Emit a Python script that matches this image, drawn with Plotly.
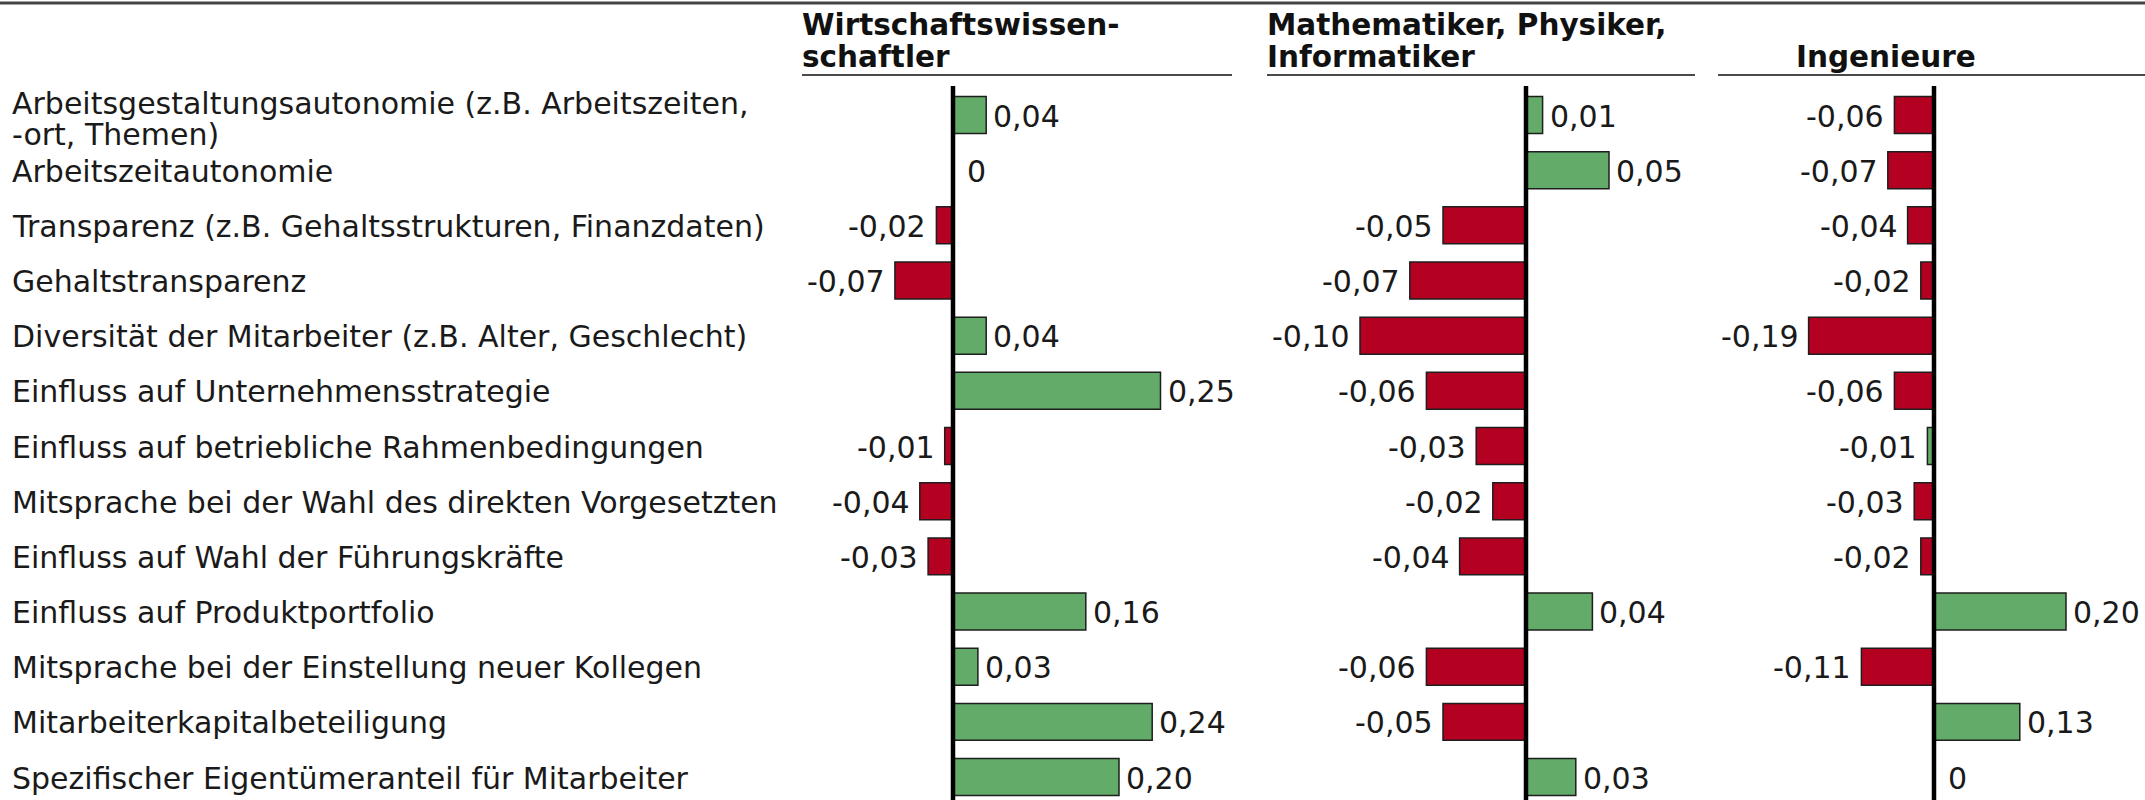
import plotly.graph_objects as go

# ---------------- data ----------------
categories = [
    "Arbeitsgestaltungsautonomie (z.B. Arbeitszeiten,<br>-ort, Themen)",
    "Arbeitszeitautonomie",
    "Transparenz (z.B. Gehaltsstrukturen, Finanzdaten)",
    "Gehaltstransparenz",
    "Diversität der Mitarbeiter (z.B. Alter, Geschlecht)",
    "Einfluss auf Unternehmensstrategie",
    "Einfluss auf betriebliche Rahmenbedingungen",
    "Mitsprache bei der Wahl des direkten Vorgesetzten",
    "Einfluss auf Wahl der Führungskräfte",
    "Einfluss auf Produktportfolio",
    "Mitsprache bei der Einstellung neuer Kollegen",
    "Mitarbeiterkapitalbeteiligung",
    "Spezifischer Eigentümeranteil für Mitarbeiter",
]
panel_titles = [
    "Wirtschaftswissen-<br>schaftler",
    "Mathematiker, Physiker,<br>Informatiker",
    "Ingenieure",
]
wiwi = [0.04, 0.0, -0.02, -0.07, 0.04, 0.25, -0.01, -0.04, -0.03, 0.16, 0.03, 0.24, 0.20]
mint = [0.01, 0.05, -0.05, -0.07, -0.10, -0.06, -0.03, -0.02, -0.04, 0.04, -0.06, -0.05, 0.03]
ing = [-0.06, -0.07, -0.04, -0.02, -0.19, -0.06, -0.01, -0.03, -0.02, 0.20, -0.11, 0.13, 0.0]
series = [wiwi, mint, ing]

# ---------------- layout constants (pixels) ----------------
W, H = 2145, 800
GREEN = "#63AB69"
RED = "#B40021"
OUTLINE = "#1e1e1e"
TXT = "#1a1a1a"
FONT = "DejaVu Sans"
FS = 30
FS_HEAD = 29.5

# panel: (left px, right px, zero px, px per unit)
panels = [
    (802, 1232, 953, 830),
    (1267, 1695, 1526, 1660),
    (1718, 2145, 1934, 660),
]
# in the original, the tiny "-0,01" bar of Ingenieure (row 7) is drawn green
color_override = {(2, 6): GREEN}

row0, rowstep = 115.0, 55.17
n = len(categories)
y_top_px = row0 - 0.5 * rowstep
y_bottom_val = (H - row0) / rowstep
y_dom_top = 1 - y_top_px / H


def fmt(v):
    if v == 0:
        return "0"
    return f"{v:.2f}".replace(".", ",")


fig = go.Figure()
annotations = []
shapes = []
layout_axes = {}

for p, (vals, (lp, rp, zp, scale)) in enumerate(zip(series, panels)):
    axname = "x" if p == 0 else f"x{p+1}"
    key = "xaxis" if p == 0 else f"xaxis{p+1}"
    colors = []
    for i, v in enumerate(vals):
        c = GREEN if v >= 0 else RED
        colors.append(color_override.get((p, i), c))
    fig.add_trace(go.Bar(
        x=vals, y=categories, orientation="h", xaxis=axname, yaxis="y",
        marker=dict(color=colors, line=dict(color=OUTLINE, width=1.5)),
        width=0.67, showlegend=False, hoverinfo="x+y",
    ))
    r0 = (lp - zp) / scale
    r1 = (rp - zp) / scale
    layout_axes[key] = dict(domain=[lp / W, rp / W], range=[r0, r1], visible=False,
                            fixedrange=True, anchor="y")
    # zero line
    shapes.append(dict(type="line", xref=axname, yref="paper", x0=0, x1=0,
                       y0=0, y1=1 - 86 / H, line=dict(color="black", width=4.5)))
    # header underline
    shapes.append(dict(type="line", xref="paper", yref="paper", x0=lp / W, x1=rp / W,
                       y0=1 - 75 / H, y1=1 - 75 / H, line=dict(color="#4a4a4a", width=2)))
    # value labels
    for i, v in enumerate(vals):
        neg = v < 0
        annotations.append(dict(
            x=v, y=i, xref=axname, yref="y", text=fmt(v), showarrow=False,
            xanchor="right" if neg else "left", xshift=-8 if neg else (12 if v == 0 else 5),
            yshift=-1,
            font=dict(family=FONT, size=FS, color=TXT)))

# panel headers
title_pos = [(800, "left"), (1265, "left"), (1886, "center")]
for (tx, anc), t in zip(title_pos, panel_titles):
    lines = t.split("<br>")
    base = [57] if len(lines) == 1 else [25.5, 57]
    for ln, yy in zip(lines, base):
        annotations.append(dict(
            x=tx / W, y=1 - yy / H, xref="paper", yref="paper", text=f"<b>{ln}</b>",
            showarrow=False, xanchor=anc, yanchor="middle",
            font=dict(family=FONT, size=FS_HEAD, color="#111111")))

# row labels
for i, c in enumerate(categories):
    lines = c.split("<br>")
    k = len(lines)
    for j, ln in enumerate(lines):
        ys = ((k - 1) / 2 - j) * 31 - (3 if k > 1 else 0)
        annotations.append(dict(
            x=10 / W, y=i, xref="paper", yref="y", text=ln, showarrow=False,
            xanchor="left", yanchor="middle", yshift=ys - 1,
            font=dict(family=FONT, size=FS, color=TXT)))

# top rule
shapes.append(dict(type="line", xref="paper", yref="paper", x0=0, x1=1,
                   y0=1 - 3 / H, y1=1 - 3 / H, line=dict(color="#444444", width=3)))

fig.update_layout(
    width=W, height=H,
    margin=dict(l=0, r=0, t=0, b=0),
    paper_bgcolor="white", plot_bgcolor="white",
    barmode="overlay",
    yaxis=dict(domain=[0, y_dom_top], range=[y_bottom_val, -0.5], type="category",
               categoryorder="array", categoryarray=categories,
               visible=False, fixedrange=True),
    annotations=annotations,
    shapes=shapes,
    **layout_axes,
)

fig.write_html("out.html", config={"displayModeBar": False},
               post_script="document.body.style.margin='0';document.body.style.overflow='hidden';")
